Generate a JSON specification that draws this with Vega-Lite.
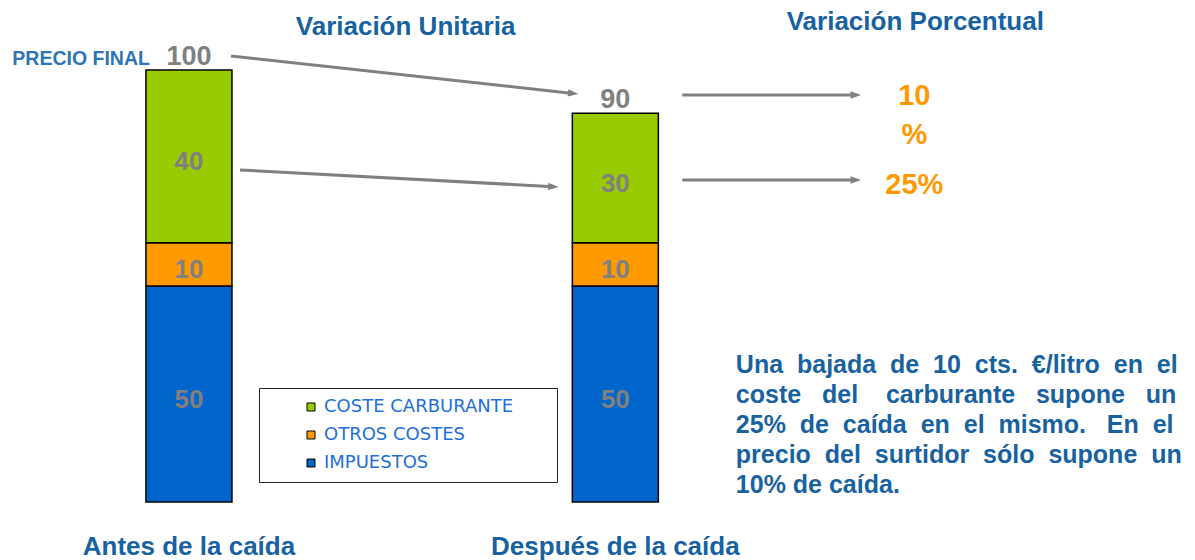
{
  "$schema": "https://vega.github.io/schema/vega-lite/v6.json",
  "width": 1195,
  "height": 560,
  "autosize": "none",
  "padding": 0,
  "background": "#ffffff",
  "config": {"view": {"stroke": null}, "axis": {"disable": true}, "font": "Liberation Sans"},
  "datasets": {
    "componentes": [
      {"etapa": "Antes de la caída", "pos": 1, "componente": "IMPUESTOS", "orden": 1, "valor": 50},
      {"etapa": "Antes de la caída", "pos": 1, "componente": "OTROS COSTES", "orden": 2, "valor": 10},
      {"etapa": "Antes de la caída", "pos": 1, "componente": "COSTE CARBURANTE", "orden": 3, "valor": 40},
      {"etapa": "Después de la caída", "pos": 2, "componente": "IMPUESTOS", "orden": 1, "valor": 50},
      {"etapa": "Después de la caída", "pos": 2, "componente": "OTROS COSTES", "orden": 2, "valor": 10},
      {"etapa": "Después de la caída", "pos": 2, "componente": "COSTE CARBURANTE", "orden": 3, "valor": 30}
    ],
    "totales": [
      {"etapa": "Antes de la caída", "pos": 1, "total": 100},
      {"etapa": "Después de la caída", "pos": 2, "total": 90}
    ],
    "flechas": [
      {"id": "precio", "x": 1.0988, "y": 103.24, "x2": 1.9012, "y2": 94.56},
      {"id": "carburante", "x": 1.1198, "y": 76.85, "x2": 1.8547, "y2": 72.99},
      {"id": "precio_pct", "x": 2.157, "y": 94.21, "x2": 2.564, "y2": 94.21},
      {"id": "carburante_pct", "x": 2.157, "y": 74.54, "x2": 2.564, "y2": 74.54}
    ],
    "titulos": [
      {"texto": "Variación Unitaria", "x": 1.5081, "y": 108.1},
      {"texto": "Variación Porcentual", "x": 2.7035, "y": 109.26}
    ],
    "porcentajes": [
      {"texto": "10\n%", "x": 2.7012, "y": 93.98},
      {"texto": "25%", "x": 2.7012, "y": 73.45}
    ],
    "nota": [
      {"texto": "Una\u00a0\u00a0bajada\u00a0\u00a0de\u00a0\u00a010\u00a0\u00a0cts.\u00a0\u00a0€/litro\u00a0\u00a0en\u00a0\u00a0el\ncoste\u00a0\u00a0\u00a0del\u00a0\u00a0\u00a0\u00a0carburante\u00a0\u00a0\u00a0supone\u00a0\u00a0\u00a0un\n25%\u00a0\u00a0de\u00a0\u00a0caída\u00a0\u00a0en\u00a0\u00a0el\u00a0\u00a0mismo.\u00a0\u00a0\u00a0En\u00a0\u00a0el\nprecio\u00a0\u00a0del\u00a0\u00a0surtidor\u00a0\u00a0sólo\u00a0\u00a0supone\u00a0\u00a0un\n10% de caída.", "x": 2.2826, "y": 29.86}
    ]
  },
  "layer": [
    {
      "data": {"name": "componentes"},
      "mark": {"type": "bar", "width": 86, "stroke": "#000000", "strokeWidth": 1.5},
      "encoding": {
        "x": {"field": "pos", "type": "quantitative", "scale": {"domain": [0.5686, 3.3477], "nice": false, "zero": false}, "axis": null},
        "y": {"field": "valor", "type": "quantitative", "stack": "zero", "scale": {"domain": [-13.426, 116.204], "nice": false, "zero": false}, "axis": null},
        "fill": {
          "field": "componente",
          "type": "nominal",
          "scale": {"domain": ["COSTE CARBURANTE", "OTROS COSTES", "IMPUESTOS"], "range": ["#99CC00", "#FF9900", "#0066CC"]},
          "legend": {
            "orient": "none",
            "legendX": 259,
            "legendY": 388,
            "direction": "vertical",
            "title": "\u00a0",
            "titleOrient": "right",
            "titlePadding": 34,
            "titleFontSize": 10,
            "padding": 10,
            "fillColor": "#ffffff",
            "strokeColor": "#222222",
            "symbolType": "square",
            "symbolSize": 64,
            "symbolStrokeColor": "#000000",
            "symbolStrokeWidth": 1,
            "symbolOffset": 33,
            "labelFont": "DejaVu Sans",
            "labelFontSize": 18,
            "labelLimit": 400,
            "labelColor": "#1E6FD9",
            "labelOffset": 4,
            "rowPadding": 10
          }
        },
        "order": {"field": "orden", "type": "quantitative"}
      }
    },
    {
      "data": {"name": "componentes"},
      "mark": {"type": "text", "fontWeight": "bold", "fontSize": 26, "fill": "#808080", "baseline": "middle", "dy": 6},
      "encoding": {
        "x": {"field": "pos", "type": "quantitative", "scale": {"domain": [0.5686, 3.3477], "nice": false, "zero": false}},
        "y": {"field": "valor", "type": "quantitative", "stack": "zero", "bandPosition": 0.5, "scale": {"domain": [-13.426, 116.204], "nice": false, "zero": false}},
        "detail": {"field": "componente", "type": "nominal"},
        "order": {"field": "orden", "type": "quantitative"},
        "text": {"field": "valor", "type": "quantitative"}
      }
    },
    {
      "data": {"name": "totales"},
      "mark": {"type": "text", "fontWeight": "bold", "fontSize": 27, "fill": "#808080", "baseline": "alphabetic", "dy": -5},
      "encoding": {
        "x": {"field": "pos", "type": "quantitative", "scale": {"domain": [0.5686, 3.3477], "nice": false, "zero": false}},
        "y": {"field": "total", "type": "quantitative", "scale": {"domain": [-13.426, 116.204], "nice": false, "zero": false}},
        "text": {"field": "total", "type": "quantitative"}
      }
    },
    {
      "data": {"values": [{"pos": 1, "total": 100, "etiqueta": "PRECIO FINAL"}]},
      "mark": {"type": "text", "fontSize": 19.5, "fontWeight": "bold", "fill": "#2E75B6", "align": "right", "baseline": "alphabetic", "dx": -39, "dy": -5},
      "encoding": {
        "x": {"field": "pos", "type": "quantitative", "scale": {"domain": [0.5686, 3.3477], "nice": false, "zero": false}},
        "y": {"field": "total", "type": "quantitative", "scale": {"domain": [-13.426, 116.204], "nice": false, "zero": false}},
        "text": {"field": "etiqueta", "type": "nominal"}
      }
    },
    {
      "data": {"name": "totales"},
      "mark": {"type": "text", "fontWeight": "bold", "fontSize": 26, "fill": "#17629F", "baseline": "alphabetic"},
      "encoding": {
        "x": {"field": "pos", "type": "quantitative", "scale": {"domain": [0.5686, 3.3477], "nice": false, "zero": false}},
        "y": {"datum": -12.27, "type": "quantitative", "scale": {"domain": [-13.426, 116.204], "nice": false, "zero": false}},
        "text": {"field": "etapa", "type": "nominal"}
      }
    },
    {
      "data": {"name": "flechas"},
      "mark": {"type": "rule", "stroke": "#808080", "strokeWidth": 3},
      "encoding": {
        "x": {"field": "x", "type": "quantitative", "scale": {"domain": [0.5686, 3.3477], "nice": false, "zero": false}},
        "y": {"field": "y", "type": "quantitative", "scale": {"domain": [-13.426, 116.204], "nice": false, "zero": false}},
        "x2": {"field": "x2"},
        "y2": {"field": "y2"}
      }
    },
    {
      "data": {"name": "flechas"},
      "transform": [{"filter": "datum.id == 'precio'"}],
      "mark": {"type": "point", "shape": "M-1,-0.7L1,0L-1,0.7Z", "filled": true, "size": 110, "angle": 6.2, "fill": "#808080", "opacity": 1, "strokeWidth": 0},
      "encoding": {
        "x": {"field": "x2", "type": "quantitative", "scale": {"domain": [0.5686, 3.3477], "nice": false, "zero": false}},
        "y": {"field": "y2", "type": "quantitative", "scale": {"domain": [-13.426, 116.204], "nice": false, "zero": false}}
      }
    },
    {
      "data": {"name": "flechas"},
      "transform": [{"filter": "datum.id == 'carburante'"}],
      "mark": {"type": "point", "shape": "M-1,-0.7L1,0L-1,0.7Z", "filled": true, "size": 110, "angle": 3, "fill": "#808080", "opacity": 1, "strokeWidth": 0},
      "encoding": {
        "x": {"field": "x2", "type": "quantitative", "scale": {"domain": [0.5686, 3.3477], "nice": false, "zero": false}},
        "y": {"field": "y2", "type": "quantitative", "scale": {"domain": [-13.426, 116.204], "nice": false, "zero": false}}
      }
    },
    {
      "data": {"name": "flechas"},
      "transform": [{"filter": "datum.id == 'precio_pct' || datum.id == 'carburante_pct'"}],
      "mark": {"type": "point", "shape": "M-1,-0.7L1,0L-1,0.7Z", "filled": true, "size": 110, "angle": 0, "fill": "#808080", "opacity": 1, "strokeWidth": 0},
      "encoding": {
        "x": {"field": "x2", "type": "quantitative", "scale": {"domain": [0.5686, 3.3477], "nice": false, "zero": false}},
        "y": {"field": "y2", "type": "quantitative", "scale": {"domain": [-13.426, 116.204], "nice": false, "zero": false}}
      }
    },
    {
      "data": {"name": "titulos"},
      "mark": {"type": "text", "fontWeight": "bold", "fontSize": 26, "fill": "#17629F", "baseline": "alphabetic", "align": "center"},
      "encoding": {
        "x": {"field": "x", "type": "quantitative", "scale": {"domain": [0.5686, 3.3477], "nice": false, "zero": false}},
        "y": {"field": "y", "type": "quantitative", "scale": {"domain": [-13.426, 116.204], "nice": false, "zero": false}},
        "text": {"field": "texto", "type": "nominal"}
      }
    },
    {
      "data": {"name": "porcentajes"},
      "mark": {"type": "text", "fontWeight": "bold", "fontSize": 29, "fill": "#FF9900", "baseline": "middle", "align": "center", "lineBreak": "\n", "lineHeight": 39},
      "encoding": {
        "x": {"field": "x", "type": "quantitative", "scale": {"domain": [0.5686, 3.3477], "nice": false, "zero": false}},
        "y": {"field": "y", "type": "quantitative", "scale": {"domain": [-13.426, 116.204], "nice": false, "zero": false}},
        "text": {"field": "texto", "type": "nominal"}
      }
    },
    {
      "data": {"name": "nota"},
      "mark": {"type": "text", "fontWeight": "bold", "fontSize": 25, "fill": "#17629F", "baseline": "alphabetic", "align": "left", "lineBreak": "\n", "lineHeight": 30},
      "encoding": {
        "x": {"field": "x", "type": "quantitative", "scale": {"domain": [0.5686, 3.3477], "nice": false, "zero": false}},
        "y": {"field": "y", "type": "quantitative", "scale": {"domain": [-13.426, 116.204], "nice": false, "zero": false}},
        "text": {"field": "texto", "type": "nominal"}
      }
    }
  ]
}
